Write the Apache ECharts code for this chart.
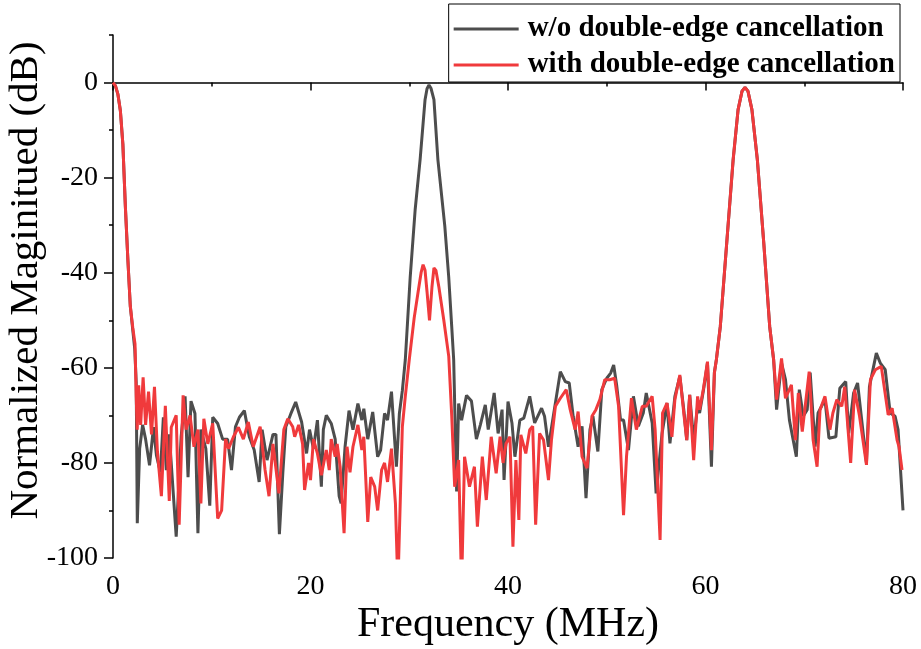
<!DOCTYPE html>
<html>
<head>
<meta charset="utf-8">
<script src="https://cdn.jsdelivr.net/npm/echarts@6/dist/echarts.min.js"></script>
<style>
html,body{margin:0;padding:0;background:#fff;}
#chart{width:921px;height:649px;}
</style>
</head>
<body>
<div id="chart"></div>
<script>
// ---- data ----
const seriesNames = ['w/o double-edge cancellation', 'with double-edge cancellation'];
const xTickValues = [0, 20, 40, 60, 80];
const yTickValues = [-100, -80, -60, -40, -20, 0];
const yMinorTickValues = [-90, -70, -50, -30, -10, 10];

const blackFreq = [0,0.25,0.5,0.75,1.0,1.25,1.5,1.75,2.0,2.2,2.35,2.46,2.7,3.0,3.3,3.7,4.1,4.4,4.8,5.1,5.4,5.7,6.4,6.9,7.3,7.6,7.9,8.3,8.6,8.9,9.4,9.8,10.1,10.6,11.1,11.6,12.0,12.4,12.8,13.3,13.8,14.3,14.8,15.1,15.6,16.2,16.5,16.85,17.2,17.5,18.0,18.5,19.1,19.6,19.9,20.3,20.7,21.1,21.3,21.6,22.1,22.5,22.9,23.1,23.5,23.9,24.3,24.8,25.2,25.4,25.8,26.3,26.8,27.1,27.5,27.8,28.2,28.7,29.0,29.3,29.6,30.1,30.6,31.1,31.6,31.8,32.0,32.2,32.5,32.9,33.6,34.0,34.3,34.5,34.8,35.0,35.3,35.8,36.3,36.8,37.2,37.7,38.0,38.6,39.0,39.4,39.6,40.0,40.4,40.7,41.2,41.6,42.2,42.7,43.4,43.7,44.1,44.8,45.3,45.8,46.2,46.6,47.1,47.5,47.9,48.3,48.6,49.1,49.5,50.0,50.4,50.7,51.0,51.4,51.7,52.2,52.7,53.2,53.7,54.0,54.6,55.0,55.6,56.1,56.4,56.9,57.4,57.8,58.1,58.4,58.8,59.2,59.4,59.8,60.2,60.6,60.9,61.1,61.5,62.15,62.8,63.3,63.7,64.0,64.3,64.7,65.25,65.9,66.5,66.9,67.2,67.7,68.1,68.5,69.2,69.5,69.9,70.3,70.6,71.1,71.4,72.1,72.5,73.2,73.6,74.2,74.5,75.0,75.4,76.3,76.6,77.3,77.7,78.2,78.7,79.2,79.5,80.0];
const blackVals = [0,-0.7,-2.5,-6,-13,-26,-37,-47,-52,-56,-63,-92.7,-77,-72,-75,-80.5,-72.5,-78.4,-82,-70.4,-81.5,-74,-95.5,-74.5,-66,-83,-67,-69.6,-94.8,-73,-77,-89,-70.4,-71.7,-75,-75,-81.5,-72.4,-70.4,-69,-74.5,-77.3,-84,-73,-79.4,-74,-74,-95,-82,-72.4,-69.7,-67.2,-71.4,-78,-73,-77,-71,-85,-73,-70,-71.7,-75,-87,-88.5,-76.6,-69,-73,-67.5,-71,-68.6,-75,-69.3,-78.7,-77.3,-69.6,-71,-65,-80.8,-69.6,-64.8,-58.3,-40.8,-26.7,-16.2,-3.6,-1.3,-0.5,-1.2,-3.6,-16.2,-30.2,-41,-51.3,-58.3,-86,-67.5,-71,-65.8,-67,-75,-72,-67.8,-73,-65.3,-73.8,-68.8,-83.6,-67.1,-71.6,-78.7,-71,-70.6,-66,-71.6,-68.5,-70.2,-76.6,-67.4,-60.8,-62.9,-63.2,-70.2,-76.6,-72.3,-87.4,-73,-70.2,-77.6,-64.6,-62.2,-61.1,-59.4,-63.6,-71,-71,-77.3,-66,-72.3,-69.5,-65.3,-71.6,-86.4,-73.8,-67.4,-75.9,-66,-61.8,-68.8,-75.2,-65.7,-75.2,-68.1,-69.5,-64.6,-59,-80.8,-61,-58.3,-51.3,-33.7,-16.2,-5.7,-1.8,-1,-1.8,-5.7,-16.2,-33.7,-51.3,-58.3,-68.8,-59,-62.5,-71,-78.7,-64.6,-70.2,-68.8,-61,-76.6,-69.5,-66.7,-74.8,-74.5,-64.3,-62.9,-73.8,-65.3,-63.2,-80,-64,-56.9,-59,-60.4,-69.5,-70.2,-73,-90];

const redFreq = [0,0.25,0.5,0.75,1.0,1.25,1.5,1.75,2.0,2.23,2.35,2.45,2.6,2.8,3.05,3.3,3.6,3.9,4.2,4.5,4.9,5.3,5.7,5.9,6.4,6.7,7.1,7.4,7.8,8.2,8.6,8.9,9.2,9.6,10.1,10.6,11.0,11.4,11.7,12.2,12.7,13.2,13.7,14.2,14.9,15.4,15.8,16.2,16.8,17.3,17.7,18.2,18.4,18.8,19.2,19.4,19.8,20.0,20.3,20.7,21.1,21.4,21.6,21.9,22.1,22.5,22.7,23.0,23.4,23.7,24.0,24.3,24.8,25.2,25.4,25.8,26.1,26.5,26.8,27.2,27.5,27.8,28.2,28.6,28.85,29.3,29.6,30.0,30.5,30.9,31.2,31.4,31.6,31.8,32.05,32.3,32.5,32.7,33.0,33.5,34.0,34.3,34.6,35.0,35.3,35.6,36.1,36.6,36.9,37.4,37.8,38.3,38.8,39.2,39.5,39.8,40.2,40.5,40.8,41.1,41.3,41.8,42.2,42.5,42.8,43.2,43.6,44.1,44.4,44.8,45.3,45.9,46.3,46.8,47.1,47.5,48.0,48.5,48.9,49.3,49.8,50.3,50.8,51.2,51.7,52.0,52.5,53.0,53.6,54.0,54.6,54.9,55.4,55.65,56.1,56.6,56.9,57.4,57.8,58.1,58.4,58.8,59.2,59.4,59.8,60.2,60.6,60.9,61.1,61.5,62.15,62.8,63.3,63.7,64.0,64.3,64.7,65.25,65.9,66.5,66.9,67.2,67.7,68.1,68.7,69.1,69.4,69.8,70.5,70.9,71.3,71.6,72.1,72.6,72.9,73.3,73.8,74.1,74.7,75.1,75.6,76.3,76.7,77.2,77.8,78.5,78.9,79.4,79.6,79.9];
const redVals = [0,-0.7,-2.5,-6,-13,-26,-37,-47,-51.5,-55,-66,-73,-63.7,-72,-62,-72,-65,-74,-64,-77.7,-87,-68,-88,-72.5,-70,-93,-65.8,-73,-70,-76.6,-73,-88.5,-70.7,-76,-71.7,-91.7,-90,-75,-77,-74.5,-72.5,-75,-71.4,-76.6,-72.4,-81.5,-87,-76,-86.4,-73,-70.7,-72.4,-74.5,-72,-76,-85.7,-80,-83.6,-75,-78,-82.6,-79.4,-77.3,-81.5,-75,-78.7,-76,-80.8,-94.8,-76.6,-82,-76.6,-72,-77.3,-74.5,-92.4,-83,-85,-90,-81.5,-80,-84,-77,-88.5,-106,-72.4,-66,-58.3,-49.5,-44,-40,-38.3,-39.5,-44,-50,-43,-39,-39.5,-43,-50,-57.6,-70,-85,-79.4,-106,-78.7,-85,-80.8,-93.4,-78.7,-87.8,-74.5,-82.2,-74.5,-80,-75.9,-74.5,-97.6,-79.4,-92,-74.1,-78,-73,-72.3,-93,-73.8,-75.2,-83.6,-75.2,-68.1,-66.4,-64.6,-68.8,-73,-69.2,-78.7,-81.1,-70.2,-68.8,-66.7,-62.5,-62.5,-62.2,-68.1,-91,-78.7,-66.4,-73,-68.1,-68.1,-66,-73,-96.2,-69.5,-67.4,-74.5,-66.7,-61.5,-69.5,-75.2,-65.7,-79.4,-66,-68.8,-64.3,-58.7,-77.3,-61.1,-58.3,-51.3,-33.7,-16.2,-5.7,-1.8,-1,-1.8,-5.7,-16.2,-33.7,-51.3,-58.3,-66.7,-58,-66.4,-63.6,-75.2,-65.3,-73.4,-60.8,-75.2,-80.8,-68.8,-66,-73,-69.5,-66.7,-68.1,-64,-80,-64.6,-70.2,-80.4,-62.5,-60.4,-59.7,-69.9,-68.5,-75.2,-76.6,-81.5];

// ---- chart ----
const FONT = '"Liberation Serif", "Times New Roman", serif';
const zip = (xs, ys) => xs.map((x, i) => [x, ys[i]]);

const chart = echarts.init(document.getElementById('chart'), null, {renderer: 'canvas'});
chart.setOption({
  backgroundColor: '#fff',
  animation: false,
  grid: {left: 113, right: 18, top: 35, bottom: 91, containLabel: false, outerBoundsMode: 'none'},
  legend: {
    orient: 'vertical', right: 21, top: 4,
    borderColor: '#000', borderWidth: 1, borderRadius: 0,
    padding: [9, 5, 1, 5],
    icon: 'rect',
    itemWidth: 65, itemHeight: 3, itemGap: 4,
    textStyle: {fontFamily: FONT, fontWeight: 'bold', fontSize: 29, color: '#000', lineHeight: 32, padding: [0, 0, 0, 4]},
    data: seriesNames
  },
  xAxis: {
    type: 'value', min: 0, max: 80, interval: 20,
    axisLine: {show: true, lineStyle: {color: '#000', width: 1.5}},
    axisTick: {show: true, length: 8, lineStyle: {color: '#000', width: 1.5}},
    minorTick: {show: true, splitNumber: 2, length: 4, lineStyle: {color: '#000', width: 1.5}},
    splitLine: {show: false},
    axisLabel: {fontFamily: FONT, fontSize: 28, color: '#000', margin: 15},
    name: 'Frequency (MHz)', nameLocation: 'middle', nameGap: 46, nameMoveOverlap: false,
    nameTextStyle: {fontFamily: FONT, fontSize: 42, color: '#000'}
  },
  yAxis: [{
    type: 'value', min: -100, max: 10, position: 'left',
    axisLine: {show: true, lineStyle: {color: '#000', width: 1.5}},
    axisTick: {show: true, length: 9, customValues: yTickValues, lineStyle: {color: '#000', width: 1.5}},
    splitLine: {show: false},
    axisLabel: {fontFamily: FONT, fontSize: 28, color: '#000', margin: 15, customValues: yTickValues},
    name: 'Normalized Maginitued (dB)', nameLocation: 'middle', nameGap: 66, nameMoveOverlap: false,
    nameTextStyle: {fontFamily: FONT, fontSize: 41, color: '#000', padding: [0, 0, 0, 32]}
  }, {
    type: 'value', min: -100, max: 10, position: 'left', offset: 0,
    axisLine: {show: false},
    axisTick: {show: true, length: 4, customValues: yMinorTickValues, lineStyle: {color: '#000', width: 1.5}},
    axisLabel: {show: false},
    splitLine: {show: false}
  }],
  series: [{
    name: seriesNames[0], type: 'line', yAxisIndex: 0,
    data: zip(blackFreq, blackVals),
    symbol: 'none', clip: true,
    lineStyle: {color: '#4d4d4d', width: 3},
    itemStyle: {color: '#4d4d4d'}
  }, {
    name: seriesNames[1], type: 'line', yAxisIndex: 0,
    data: zip(redFreq, redVals),
    symbol: 'none', clip: true,
    lineStyle: {color: '#f03a3c', width: 3},
    itemStyle: {color: '#f03a3c'}
  }]
});
</script>
</body>
</html>
